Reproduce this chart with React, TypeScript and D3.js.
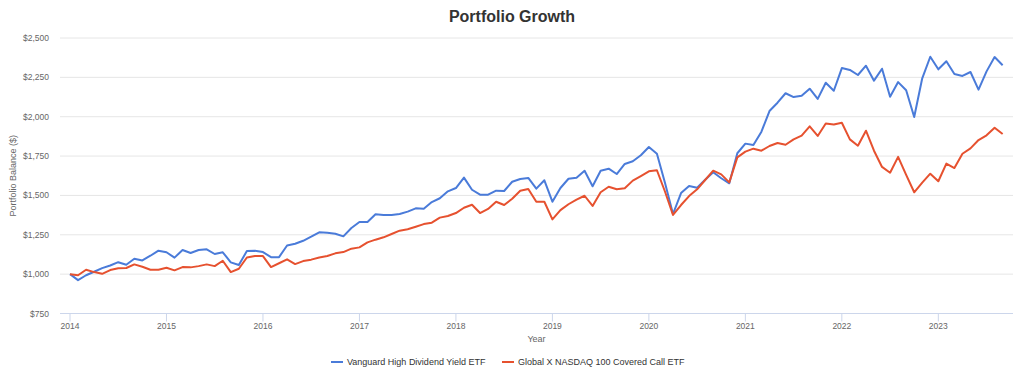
import React from "react";
import * as d3 from "d3";

const startYear = 2014;
const yearTicks = [2014, 2015, 2016, 2017, 2018, 2019, 2020, 2021, 2022, 2023];
const yTicks = [750, 1000, 1250, 1500, 1750, 2000, 2250, 2500];

const seriesNames = ["Vanguard High Dividend Yield ETF", "Global X NASDAQ 100 Covered Call ETF"];

const vanguard = [
  1000, 962, 993, 1015, 1038, 1055, 1076, 1060, 1098, 1087, 1117, 1149,
  1139, 1105, 1153, 1134, 1153, 1158, 1128, 1139, 1075, 1058, 1147, 1149,
  1140, 1108, 1108, 1182, 1193, 1212, 1238, 1266, 1263, 1257, 1240, 1293,
  1331, 1331, 1380, 1376, 1376, 1382, 1397, 1418, 1416, 1458, 1482, 1526,
  1547, 1613, 1536, 1505, 1505, 1530, 1528, 1587, 1604, 1611, 1543, 1596,
  1460, 1547, 1606, 1613, 1657, 1558, 1657, 1670, 1636, 1700, 1717, 1755,
  1808, 1765, 1581, 1382, 1515, 1560, 1549, 1600, 1647, 1609, 1577, 1768,
  1829, 1820, 1905, 2036, 2089, 2149, 2125, 2133, 2178, 2113, 2216, 2165,
  2309, 2297, 2265, 2324, 2229, 2305, 2127, 2220, 2168, 1998, 2244, 2381,
  2301, 2352, 2271, 2259, 2284, 2172, 2288, 2379, 2327,
];

const globalX = [
  1000, 993, 1028, 1013, 1002, 1026, 1037, 1039, 1062, 1047, 1028, 1028,
  1041, 1024, 1045, 1043, 1051, 1062, 1051, 1085, 1013, 1034, 1106, 1115,
  1115, 1045, 1069, 1094, 1064, 1083, 1092, 1106, 1115, 1132, 1140, 1162,
  1170, 1202, 1219, 1234, 1255, 1276, 1285, 1301, 1318, 1327, 1359, 1369,
  1388, 1422, 1441, 1388, 1414, 1460, 1439, 1479, 1530, 1541, 1460, 1460,
  1348, 1407, 1444, 1473, 1498, 1433, 1520, 1555, 1539, 1545, 1594, 1623,
  1653, 1660, 1525, 1376, 1439, 1496, 1539, 1598, 1657, 1634, 1583, 1742,
  1778, 1797, 1784, 1814, 1833, 1822, 1856, 1880, 1939, 1878, 1957, 1950,
  1962, 1856, 1816, 1911, 1784, 1681, 1644, 1745, 1630, 1520, 1581, 1638,
  1590, 1702, 1674, 1765, 1799, 1852, 1882, 1930, 1890,
];

const colors = ["#4a7bd9", "#e6512f"];
const FONT = "'Liberation Sans', Arial, Helvetica, sans-serif";

export default function App() {
  const W = 1024, H = 369;
  const plotLeft = 60, plotRight = 1013, plotTop = 38, plotBottom = 313.5;
  const firstX = 70;
  const monthPx = 8.04;

  const x = d3
    .scaleLinear()
    .domain([startYear - (firstX - plotLeft) / (monthPx * 12), startYear + (plotRight - firstX) / (monthPx * 12)])
    .range([plotLeft, plotRight]);
  const y = d3.scaleLinear().domain([750, 2500]).range([plotBottom, plotTop]);

  const line = d3
    .line<number>()
    .x((_, i) => x(startYear + i / 12))
    .y((d) => y(d));

  const fmt = d3.format("$,");
  const all = [vanguard, globalX];

  return (
    <svg width={W} height={H} style={{ position: "absolute", left: 0, top: 0, background: "#fff" }} fontFamily={FONT}>
      <rect width={W} height={H} fill="#fff" />
      <text x={512} y={22} textAnchor="middle" fontSize={16} fontWeight="bold" fill="#333">
        Portfolio Growth
      </text>
      {yTicks.map((t) => (
        <g key={t}>
          {t !== 750 && (
            <line x1={plotLeft} x2={plotRight} y1={y(t)} y2={y(t)} stroke="#e6e6e6" strokeWidth={1} />
          )}
          <text x={49} y={y(t) + 3} textAnchor="end" fontSize={8.5} fill="#666">
            {fmt(t)}
          </text>
        </g>
      ))}
      <line x1={plotLeft} x2={plotRight} y1={plotBottom} y2={plotBottom} stroke="#ccd6eb" strokeWidth={1} />
      {yearTicks.map((yr) => (
        <g key={yr}>
          <line x1={x(yr)} x2={x(yr)} y1={plotBottom} y2={plotBottom + 8} stroke="#ccd6eb" strokeWidth={1} />
          <text x={x(yr)} y={plotBottom + 15} textAnchor="middle" fontSize={8.5} fill="#666">
            {yr}
          </text>
        </g>
      ))}
      <text x={(plotLeft + plotRight) / 2} y={342} textAnchor="middle" fontSize={9} fill="#666">
        Year
      </text>
      <text
        transform={`translate(16,${(plotTop + plotBottom) / 2}) rotate(-90)`}
        textAnchor="middle"
        fontSize={9}
        fill="#666"
      >
        Portfolio Balance ($)
      </text>
      {all.map((s, k) => (
        <path key={k} d={line(s) || ""} fill="none" stroke={colors[k]} strokeWidth={2} strokeLinejoin="round" />
      ))}
      <g>
        <line x1={331} x2={343} y1={362} y2={362} stroke={colors[0]} strokeWidth={2} />
        <text x={347} y={365} fontSize={9} fill="#333">
          {seriesNames[0]}
        </text>
        <line x1={502} x2={514} y1={362} y2={362} stroke={colors[1]} strokeWidth={2} />
        <text x={518} y={365} fontSize={9} fill="#333">
          {seriesNames[1]}
        </text>
      </g>
    </svg>
  );
}
